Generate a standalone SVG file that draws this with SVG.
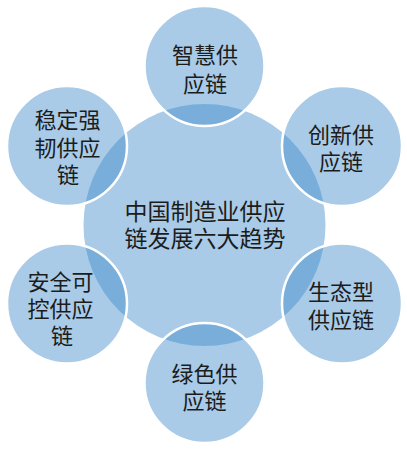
<svg xmlns="http://www.w3.org/2000/svg" width="407" height="450" viewBox="0 0 407 450">
  <style>
    .hub { fill: #a9cbe7; }
    .sat { fill: rgb(65,140,202); fill-opacity: 0.45; stroke: #ffffff; stroke-width: 2.5; }
    text { font-family: "Noto Sans CJK SC", "Noto Sans", sans-serif; fill: #1c1c1c; text-anchor: middle; dominant-baseline: central; }
    .t { font-size: 22px; }
    .c { font-size: 23px; }
  </style>
  <rect width="407" height="450" fill="#ffffff"/>
  <g id="connectors"></g>
  <g id="center">
    <circle class="hub" cx="204.5" cy="225" r="121"/>
    <text class="c" x="205" y="210">中国制造业供应</text>
    <text class="c" x="205" y="237">链发展六大趋势</text>
  </g>
  <g id="node-top">
    <circle class="sat" cx="204.5" cy="66" r="60"/>
    <text class="t" x="205" y="53">智慧供</text>
    <text class="t" x="205" y="82">应链</text>
  </g>
  <g id="node-top-right">
    <circle class="sat" cx="342" cy="146" r="60"/>
    <text class="t" x="341" y="133">创新供</text>
    <text class="t" x="341" y="160">应链</text>
  </g>
  <g id="node-bottom-right">
    <circle class="sat" cx="342" cy="303.5" r="60"/>
    <text class="t" x="341" y="290">生态型</text>
    <text class="t" x="341" y="318">供应链</text>
  </g>
  <g id="node-bottom">
    <circle class="sat" cx="204.5" cy="383" r="60"/>
    <text class="t" x="204.5" y="372">绿色供</text>
    <text class="t" x="204.5" y="399">应链</text>
  </g>
  <g id="node-bottom-left">
    <circle class="sat" cx="67" cy="303.5" r="60"/>
    <text class="t" x="60.5" y="280">安全可</text>
    <text class="t" x="60.5" y="307">控供应</text>
    <text class="t" x="62" y="334">链</text>
  </g>
  <g id="node-top-left">
    <circle class="sat" cx="67" cy="146" r="60"/>
    <text class="t" x="67.5" y="118">稳定强</text>
    <text class="t" x="67.5" y="146">韧供应</text>
    <text class="t" x="68" y="173">链</text>
  </g>
</svg>
